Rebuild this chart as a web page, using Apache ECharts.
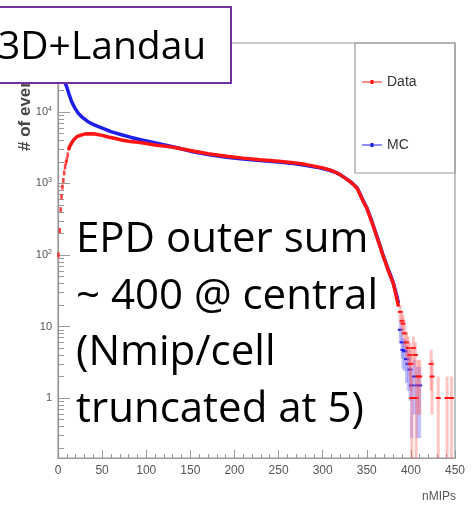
<!DOCTYPE html>
<html>
<head>
<meta charset="utf-8">
<script src="https://cdn.jsdelivr.net/npm/echarts@6/dist/echarts.min.js"></script>
<style>html,body{margin:0;padding:0;background:#fff}#c{width:476px;height:505px}</style>
</head>
<body>
<div id="c"></div>
<script>
// ---- data ----
const xTicks = [0, 50, 100, 150, 200, 250, 300, 350, 400, 450];
const yTickValues = [1, 10, 100, 1000, 10000];
const yTickLabels = ['1', '10', '10{s|2}', '10{s|3}', '10{s|4}'];

// Data (red): steep rising start drawn as separate bins
const dataLeadX = [0.5, 2, 3, 4, 5, 6, 7, 8, 9, 10, 11];
const dataLeadY = [100, 220, 430, 650, 890, 1100, 1400, 1700, 1950, 2150, 2500];
// Data (red): main body
const dataX = [12, 13, 15.5, 18, 21, 25, 30, 36, 42, 50, 57, 65, 72, 80, 95, 110, 129, 153, 170, 191, 210, 229, 250, 267, 280, 293, 300, 308, 315, 320, 327, 331, 335, 339, 342, 346, 350, 354, 358, 362, 365, 368, 371, 374, 377, 380, 383, 386];
const dataY = [2900, 3250, 3700, 4100, 4470, 4700, 4900, 4950, 4900, 4700, 4470, 4250, 4060, 3900, 3700, 3450, 3240, 2850, 2600, 2400, 2260, 2150, 2050, 1950, 1850, 1720, 1650, 1550, 1430, 1320, 1150, 1060, 960, 860, 720, 560, 450, 330, 240, 170, 132, 100, 80, 62, 50, 40, 28, 19];
// Data (red): sparse tail with error bars
const dataTailX = [388, 390, 391, 393, 395, 397, 399, 400, 401, 403, 405, 406, 408, 410, 423, 424, 431, 441, 446];
const dataTailY = [16, 12, 11, 8, 6, 5, 4, 3, 1, 5, 4, 1, 2, 2, 3, 2, 1, 1, 1];

// MC (blue): main body
const mcX = [1, 3, 5, 7.9, 9.8, 12, 15.5, 19, 23, 28, 34, 41, 49.5, 60, 72, 83, 95, 108, 121, 135, 153, 170, 191, 210, 229, 250, 267, 280, 293, 300, 308, 315, 320, 327, 331, 335, 339, 342, 346, 350, 354, 358, 362, 365, 368, 371, 374, 377, 380, 383, 386];
const mcY = [80000, 45000, 33000, 25300, 22600, 18500, 13900, 11400, 9600, 8300, 7300, 6600, 6000, 5300, 4800, 4400, 4060, 3750, 3450, 3150, 2780, 2530, 2330, 2200, 2090, 1990, 1900, 1800, 1690, 1620, 1530, 1420, 1320, 1160, 1070, 970, 870, 730, 570, 460, 340, 245, 175, 135, 104, 82, 64, 52, 41, 30, 21];
// MC (blue): sparse tail with error bars
const mcTailX = [388, 390, 391, 393, 395, 397, 399, 401, 404, 407, 410];
const mcTailY = [9, 6, 4.7, 4.5, 3.5, 3, 2.5, 1.5, 2, 1.5, 1.5];

const Y_MIN = 0.145, Y_MAX = 92000;
const RED = '#ff1414', BLUE = '#1e1eee';
const NARROW = '"Liberation Sans Narrow", "Liberation Sans", Arial, sans-serif';
const BIGFONT = '"Open Sans", sans-serif';

function zip(xs, ys) { return xs.map((x, i) => [x, ys[i]]); }
function minorLogTicks() {
  const out = [];
  for (let e = -1; e <= 4; e++) for (let m = 2; m <= 9; m++) {
    const v = m * Math.pow(10, e);
    if (v > Y_MIN && v < Y_MAX) out.push(v);
  }
  return out;
}
function errSeries(name, color, light, xs, ys) {
  return {
    name, type: 'custom', z: 4,
    data: zip(xs, ys),
    renderItem: function (params, api) {
      const x = api.value(0), v = api.value(1), e = Math.sqrt(v);
      const lo = Math.max(v - e, Y_MIN), hi = v + e;
      const pTop = api.coord([x, hi]), pBot = api.coord([x, lo]), p = api.coord([x, v]);
      return {
        type: 'group', children: [
          { type: 'rect', shape: { x: pTop[0] - 1.5, y: pTop[1], width: 3, height: pBot[1] - pTop[1] }, style: { fill: light } },
          { type: 'rect', shape: { x: p[0] - 2.5, y: p[1] - 1, width: 5, height: 2 }, style: { fill: color } }
        ]
      };
    }
  };
}

const chart = echarts.init(document.getElementById('c'), null, { renderer: 'canvas' });
const legendIcon = 'path://M0,4 L20,4 L20,5 L0,5 Z M8.5,2.5 L11.5,2.5 L11.5,6.5 L8.5,6.5 Z';
const bigLine = (t, y) => ({ type: 'text', z: 30, x: 76, y: y,
  style: { text: t, font: '42px ' + BIGFONT, fill: '#000', textAlign: 'left', textVerticalAlign: 'middle' } });

chart.setOption({
  animation: false,
  backgroundColor: '#fff',
  grid: { left: 58, right: 21, top: 43, bottom: 47, show: true, borderColor: '#999', borderWidth: 1.2 },
  legend: {
    orient: 'vertical', left: 357, top: 70, itemGap: 49, itemWidth: 20, itemHeight: 9,
    textStyle: { fontFamily: NARROW, fontSize: 14, color: '#333' },
    data: [{ name: 'Data', icon: legendIcon }, { name: 'MC', icon: legendIcon }]
  },
  xAxis: {
    type: 'value', min: 0, max: 450, interval: 50,
    axisLine: { lineStyle: { color: '#999', width: 1.2 } },
    axisTick: { inside: true, length: 8, lineStyle: { color: '#999' } },
    minorTick: { show: true, splitNumber: 5, length: 4, lineStyle: { color: '#999' } },
    splitLine: { show: false },
    axisLabel: { margin: 7, fontFamily: NARROW, fontSize: 12, color: '#555', customValues: xTicks }
  },
  yAxis: [{
    type: 'log', logBase: 10, min: Y_MIN, max: Y_MAX,
    axisLine: { show: true, lineStyle: { color: '#999', width: 1.2 } },
    axisTick: { inside: true, length: 12, lineStyle: { color: '#999' }, customValues: yTickValues },
    splitLine: { show: false },
    axisLabel: {
      margin: 6, fontFamily: NARROW, fontSize: 11, color: '#555', customValues: yTickValues,
      formatter: function (v) { return yTickLabels[yTickValues.indexOf(Math.round(v))] || ''; },
      rich: { s: { fontSize: 7, verticalAlign: 'top', padding: [0, 0, 6, 0], color: '#555', fontFamily: NARROW } }
    }
  }, {
    type: 'log', logBase: 10, min: Y_MIN, max: Y_MAX, position: 'left',
    axisLine: { show: false },
    axisTick: { inside: true, length: 6, lineStyle: { color: '#999' }, customValues: minorLogTicks() },
    axisLabel: { show: false }, splitLine: { show: false }
  }],
  series: [
    { name: 'MC', type: 'line', data: zip(mcX, mcY), showSymbol: false, symbol: 'none', smooth: false, z: 2,
      lineStyle: { color: BLUE, width: 3.5 }, itemStyle: { color: BLUE } },
    errSeries('MC', BLUE, 'rgba(90,90,255,0.35)', mcTailX, mcTailY),
    { name: 'Data', type: 'line', data: zip(dataX, dataY), showSymbol: false, symbol: 'none', z: 3,
      lineStyle: { color: RED, width: 3.5 }, itemStyle: { color: RED } },
    { name: 'Data', type: 'scatter', data: zip(dataLeadX, dataLeadY), symbol: 'rect', symbolSize: [2.5, 5], z: 3,
      itemStyle: { color: RED } },
    errSeries('Data', RED, 'rgba(255,90,90,0.35)', dataTailX, dataTailY)
  ],
  graphic: [
    { type: 'text', z: 50, rotation: Math.PI / 2, x: 25, y: 151,
      style: { text: '# of events', font: 'bold 17px ' + NARROW, fill: '#444', textAlign: 'left', textVerticalAlign: 'middle' } },
    { type: 'rect', z: 100, shape: { x: -10, y: 7, width: 241, height: 76 },
      style: { fill: '#fff', stroke: '#7030a0', lineWidth: 2 } },
    { type: 'text', z: 101, x: -2, y: 48,
      style: { text: '3D+Landau', font: '39px ' + BIGFONT, fill: '#000', textAlign: 'left', textVerticalAlign: 'middle' } },
    { type: 'rect', z: 20, shape: { x: 355, y: 43, width: 100, height: 130 },
      style: { fill: 'none', stroke: '#999', lineWidth: 1.2 } },
    { type: 'text', z: 30, x: 456, y: 497,
      style: { text: 'nMIPs', font: '12px ' + NARROW, fill: '#555', textAlign: 'right', textVerticalAlign: 'middle' } },
    bigLine('EPD outer sum', 240),
    bigLine('~ 400 @ central', 297),
    bigLine('(Nmip/cell', 353),
    bigLine('truncated at 5)', 410)
  ]
});
</script>
</body>
</html>
